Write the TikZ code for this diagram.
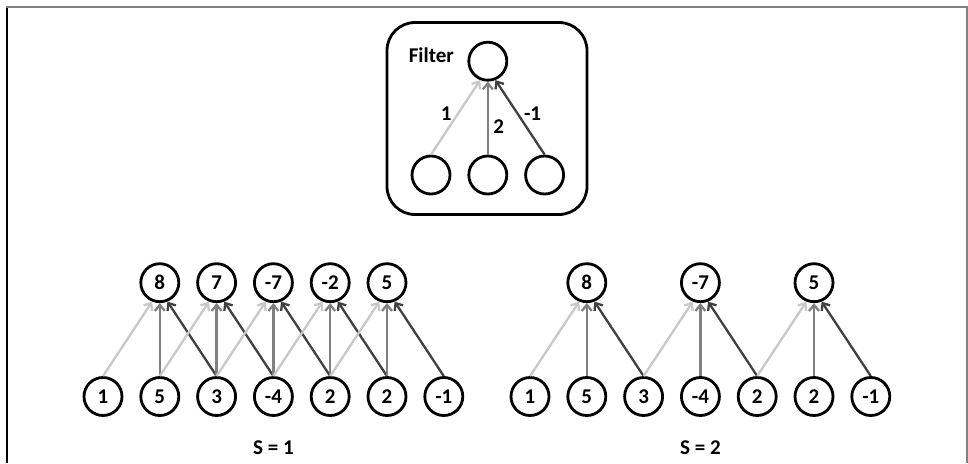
\documentclass[tikz,border=0pt]{standalone}
\usepackage{fontspec}
\setmainfont{Carlito}
\usetikzlibrary{arrows.meta, positioning}
\definecolor{wlight}{RGB}{200,200,200}
\definecolor{wmid}{RGB}{128,128,128}
\definecolor{wdark}{RGB}{64,64,64}

\begin{document}
\begin{tikzpicture}[
    x=1pt, y=-1pt,
    node distance=73pt and 16pt,
    unit/.style={circle, draw, line width=2.8pt, minimum size=38pt, inner sep=0pt,
                 font=\fontsize{21}{24}\selectfont\bfseries},
    wt/.style={-{Straight Barb[length=6pt, width=10pt]}, line width=2.3pt, draw=#1},
    lbl/.style={font=\fontsize{21}{24}\selectfont\bfseries},
    filterbox/.style={draw, line width=2.8pt, rounded corners=28pt,
                      minimum width=200pt, minimum height=192pt},
]
    \useasboundingbox (0,0) rectangle (968,463);
    % open frame
    \draw[line width=2pt, black] (6.5,463) -- (6.5,6.5);
    \draw[line width=2pt, wmid] (5.5,6.5) -- (966.5,6.5) -- (966.5,463);

    % filter
    \node[filterbox] (box) at (487,118.5) {};
    \node[unit] (f1) at (431,175) {};
    \node[unit, right=of f1] (f2) {};
    \node[unit, right=of f2] (f3) {};
    \node[unit, above=of f2] (ftop) {};
    \node[lbl, left=10pt of ftop, yshift=6pt] (ftitle) {Filter};
    \draw[wt=wlight] (f1.north) -- (ftop.-112) node[pos=0.55, left=2pt, lbl] (w1) {1};
    \draw[wt=wmid] (f2.north) -- (ftop.south) node[pos=0.38, right=1pt, lbl] (w2) {2};
    \draw[wt=wdark] (f3.north) -- (ftop.-68) node[pos=0.55, right=2pt, lbl] (w3) {-1};

    % stride 1
    \node[unit] (a1) at (103,396.5) {1};
    \node[unit, right=of a1] (a2) {5};
    \node[unit, right=of a2] (a3) {3};
    \node[unit, right=of a3] (a4) {-4};
    \node[unit, right=of a4] (a5) {2};
    \node[unit, right=of a5] (a6) {2};
    \node[unit, right=of a6] (a7) {-1};
    \node[unit, above=of a2] (p1) {8};
    \node[unit, above=of a3] (p2) {7};
    \node[unit, above=of a4] (p3) {-7};
    \node[unit, above=of a5] (p4) {-2};
    \node[unit, above=of a6] (p5) {5};
    \foreach \j [evaluate=\j as \i using int(\j+1), evaluate=\j as \k using int(\j+2)] in {1,...,5} {
        \draw[wt=wlight] (a\j.north) -- (p\j.-112);
        \draw[wt=wmid] (a\i.north) -- (p\j.south);
        \draw[wt=wdark] (a\k.north) -- (p\j.-68);
    }
    \node[lbl, below=20pt of a4] (s1) {S = 1};

    % stride 2
    \node[unit] (b1) at (530,396.5) {1};
    \node[unit, right=of b1] (b2) {5};
    \node[unit, right=of b2] (b3) {3};
    \node[unit, right=of b3] (b4) {-4};
    \node[unit, right=of b4] (b5) {2};
    \node[unit, right=of b5] (b6) {2};
    \node[unit, right=of b6] (b7) {-1};
    \node[unit, above=of b2] (q1) {8};
    \node[unit, above=of b4] (q2) {-7};
    \node[unit, above=of b6] (q3) {5};
    \foreach \j [evaluate=\j as \h using int(2*\j-1), evaluate=\j as \i using int(2*\j), evaluate=\j as \k using int(2*\j+1)] in {1,2,3} {
        \draw[wt=wlight] (b\h.north) -- (q\j.-112);
        \draw[wt=wmid] (b\i.north) -- (q\j.south);
        \draw[wt=wdark] (b\k.north) -- (q\j.-68);
    }
    \node[lbl, below=20pt of b4] (s2) {S = 2};
\end{tikzpicture}
\end{document}
